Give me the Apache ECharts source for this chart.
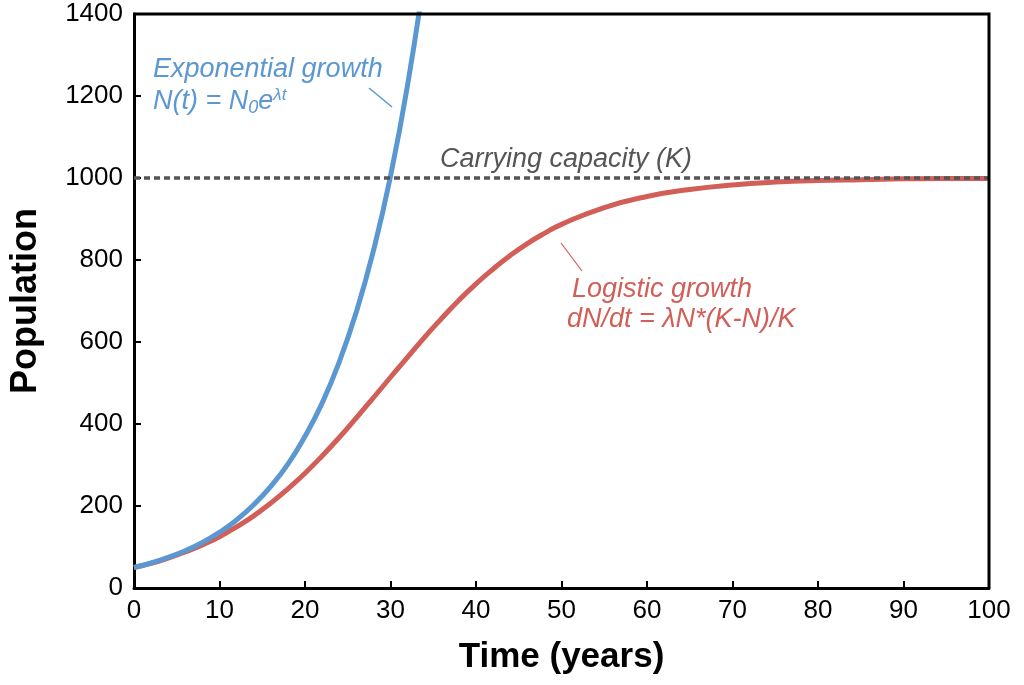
<!DOCTYPE html>
<html>
<head>
<meta charset="utf-8">
<script src="https://cdn.jsdelivr.net/npm/echarts@6/dist/echarts.min.js"></script>
<style>
  html, body { margin: 0; padding: 0; background: #fff; }
  #chart { width: 1024px; height: 685px; }
</style>
</head>
<body>
<div id="chart"></div>
<script>
const myChart = echarts.init(document.querySelector('#chart'));

// values
const expYears = [0, 2, 4, 6, 8, 10, 12, 14, 16, 18, 20, 22, 24, 26, 28, 30, 32, 34]
const expPop = [50, 61, 75, 91, 111, 136, 166, 203, 248, 302, 370, 451, 551, 673, 822, 1004, 1227, 1498]

const logYears = [0, 2, 4, 6, 8, 10, 12, 14, 16, 18, 20, 22, 24, 26, 28, 30, 32, 34, 36, 38, 40, 42, 44, 46, 48, 50, 55, 60, 65, 70, 75, 80, 85, 90, 95, 100]
const logPop = [50, 60, 73, 88, 105, 125, 149, 176, 207, 242, 280, 322, 367, 415, 464, 514, 563, 612, 658, 702, 742, 778, 811, 840, 865, 887, 928, 955, 972, 983, 990, 994, 996, 998, 999, 999]

const capYears = [0, 100]
const capPop = [1000, 1000]

const blue = '#5b97d1'
const red = '#d25e58'
const grey = '#555555'
const font = 'Liberation Sans, Arial, sans-serif'

const pairs = (xs, ys) => xs.map((x, i) => [x, ys[i]])

myChart.setOption({
  animation: false,
  grid: { left: 133, right: 35, top: 14, bottom: 97, containLabel: false },
  xAxis: {
    type: 'value', min: 0, max: 100, interval: 10,
    name: 'Time (years)', nameLocation: 'middle', nameGap: 52,
    nameTextStyle: { fontFamily: font, fontWeight: 'bold', fontSize: 35, color: '#000' },
    axisLine: { onZero: false, lineStyle: { color: '#000', width: 3 } },
    axisTick: { inside: true, length: 7, lineStyle: { color: '#000', width: 2 } },
    axisLabel: { fontFamily: font, fontSize: 26, color: '#000', margin: 10, formatter: v => String(v) },
    splitLine: { show: false }
  },
  yAxis: {
    type: 'value', min: 0, max: 1400, interval: 200,
    name: 'Population', nameLocation: 'middle', nameGap: 90,
    nameTextStyle: { fontFamily: font, fontWeight: 'bold', fontSize: 36, color: '#000' },
    axisLine: { onZero: false, lineStyle: { color: '#000', width: 3 } },
    axisTick: { inside: true, length: 7, lineStyle: { color: '#000', width: 2 } },
    axisLabel: { fontFamily: font, fontSize: 26, color: '#000', margin: 11, formatter: v => String(v) },
    splitLine: { show: false }
  },
  series: [
    {
      name: 'Exponential', type: 'line', smooth: true, symbol: 'none', clip: true,
      data: pairs(expYears, expPop),
      lineStyle: { color: blue, width: 5 }, z: 3
    },
    {
      name: 'Logistic', type: 'line', smooth: true, symbol: 'none',
      data: pairs(logYears, logPop),
      lineStyle: { color: red, width: 5 }, z: 2
    },
    {
      name: 'Carrying capacity', type: 'line', symbol: 'none',
      data: pairs(capYears, capPop),
      lineStyle: { color: grey, width: 3.5, type: [6, 4] }, z: 4
    }
  ],
  graphic: [
    // plot frame top/right
    { type: 'polyline', z: 10, shape: { points: [[133, 14], [989, 14], [989, 588]] },
      style: { stroke: '#000', lineWidth: 3, fill: null } },
    { type: 'text', left: 153, top: 56, z: 10,
      style: { text: 'Exponential growth', font: 'italic 27px ' + font, fill: blue } },
    { type: 'text', left: 153, top: 87, z: 10,
      style: {
        text: '{a|N(t) = N}{s|0}{a|e}{p|λt}',
        fill: blue,
        rich: {
          a: { font: 'italic 27px ' + font, fill: blue },
          s: { font: 'italic 18px ' + font, fill: blue, padding: [12, 0, 0, 0] },
          p: { font: 'italic 17px ' + font, fill: blue, padding: [0, 0, 12, 0] }
        }
      } },
    { type: 'line', z: 10, shape: { x1: 369, y1: 88, x2: 392, y2: 107 },
      style: { stroke: blue, lineWidth: 1.5 } },
    { type: 'text', left: 440, top: 146, z: 10,
      style: { text: 'Carrying capacity (K)', font: 'italic 27px ' + font, fill: grey } },
    { type: 'line', z: 10, shape: { x1: 561, y1: 243, x2: 582, y2: 271 },
      style: { stroke: red, lineWidth: 1.2 } },
    { type: 'text', left: 572, top: 276, z: 10,
      style: { text: 'Logistic growth', font: 'italic 27px ' + font, fill: red } },
    { type: 'text', left: 567, top: 306, z: 10,
      style: { text: 'dN/dt = λN*(K-N)/K', font: 'italic 27px ' + font, fill: red } }
  ]
});
</script>
</body>
</html>
